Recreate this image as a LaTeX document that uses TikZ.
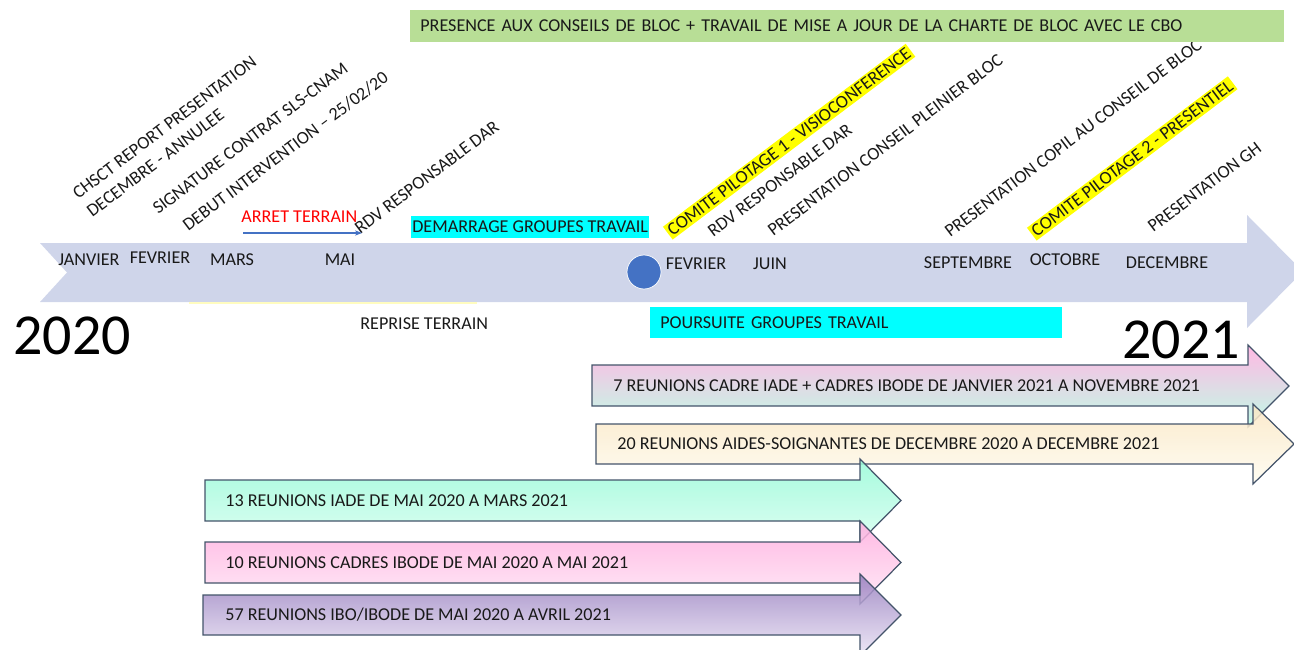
\documentclass[tikz,border=0pt]{standalone}
\usepackage{fontspec}
\setmainfont{Carlito}
\usetikzlibrary{positioning,arrows.meta}

\definecolor{timeline}{RGB}{207,213,234}
\definecolor{dotblue}{RGB}{68,114,196}
\definecolor{bargreen}{RGB}{184,222,150}
\definecolor{groupcyan}{RGB}{0,255,255}
\definecolor{pilotyellow}{RGB}{255,255,0}
\definecolor{outline}{RGB}{68,84,106}
\definecolor{pinktop}{RGB}{255,172,222}
\definecolor{minttop}{RGB}{150,250,215}
\definecolor{mintbot}{RGB}{215,255,240}
\definecolor{creamtop}{RGB}{250,230,195}
\definecolor{creambot}{RGB}{255,252,240}
\definecolor{pinkbot}{RGB}{255,230,245}
\definecolor{purpletop}{RGB}{150,125,190}
\definecolor{purplebot}{RGB}{235,228,245}

\begin{document}
\begin{tikzpicture}
[x=0.02cm, y=-0.02cm,
% STYLES
every node/.style={inner sep=0pt, text=black!90, font=\fontsize{10.3}{12}\selectfont},
% The month style is used to write the months on the timeline
month/.style={anchor=base},
% The event style is used for the slanted milestones above the timeline
event/.style={anchor=base west, rotate=37},
% The pilot style highlights the steering committees
pilot/.style={event, fill=pilotyellow, inner sep=1.2pt},
% The group style is used for the work group boxes
group/.style={fill=groupcyan, anchor=west, align=left},
% The year style is used to draw the big years
year/.style={font=\fontsize{33}{36}\selectfont, text=black},
% The meeting style is used to draw the meeting arrows
meeting/.style={draw=outline, line width=0.7pt, fill opacity=0.85},
meetinglabel/.style={anchor=west}]

\useasboundingbox (0,0) rectangle (1294,649);

% Draw the timeline
\fill [timeline] (40,243) -- (1247,243) -- (1247,215) -- (1303,271.5) -- (1247,328)
    -- (1247,302) -- (40,302) -- (67,272.5) -- cycle;
\draw [yellow!25, line width=0.6pt] (189,303) -- (477,303);

% Months
\node [month] (janvier) at (89,265) {JANVIER};
\node [month] (fevrier) at (160,263) {FEVRIER};
\node [month] (mars) at (232,265) {MARS};
\node [month] (mai) at (340,265) {MAI};
\node [circle, fill=dotblue, draw=white, minimum size=0.68cm] (relance) at (644,272) {};
\node [month] (fevrier-2) at (696,269) {FEVRIER};
\node [month] (juin) at (770,269) {JUIN};
\node [month] (septembre) at (968,268) {SEPTEMBRE};
\node [month] (octobre) at (1065,265) {OCTOBRE};
\node [month] (decembre) at (1167,268) {DECEMBRE};

% Years
\node [year] (an-2020) at (72,336) {2020};
\node [year] (an-2021) at (1181,340) {2021};

% Milestones
\node [event] (chsct) at (78,200) {CHSCT REPORT PRESENTATION};
\node [event] (annulee) at (92,218) {DECEMBRE - ANNULEE};
\node [event] (signature) at (158,215) {SIGNATURE CONTRAT SLS-CNAM};
\node [event] (debut) at (188,232) {DEBUT INTERVENTION – 25/02/20};
\node [event] (rdv-dar) at (360,235) {RDV RESPONSABLE DAR};
\node [pilot] (copil-1) at (671,238) {COMITE PILOTAGE 1 - VISIOCONFERENCE};
\node [event] (rdv-dar-2) at (713,238) {RDV RESPONSABLE DAR};
\node [event] (pleinier) at (773,237) {PRESENTATION CONSEIL PLEINIER BLOC};
\node [event] (copil-bloc) at (950,238) {PRESENTATION COPIL AU CONSEIL DE BLOC};
\node [pilot] (copil-2) at (1035,239) {COMITE PILOTAGE 2 - PRESENTIEL};
\node [event] (gh) at (1153,233) {PRESENTATION GH};

% Field work
\node [anchor=base west, text=red] (arret) at (241,222) {ARRET TERRAIN};
\coordinate (arret-debut) at (243,233);
\coordinate (arret-fin) at (362,233);
\draw [-{Stealth[length=4pt, width=3pt]}, dotblue, line width=0.6pt] (arret-debut) -- (arret-fin);
\node [anchor=base west] (reprise) at (360,329) {REPRISE TERRAIN};

% Work groups
\node [fill=bargreen, anchor=west, align=left, text width=17.08cm, inner xsep=0.2cm, minimum height=0.64cm] (conseils) at (410,26)
    {PRESENCE AUX CONSEILS DE BLOC + TRAVAIL DE MISE A JOUR DE LA CHARTE DE BLOC AVEC LE CBO};
\node [group, inner xsep=0.02cm, minimum height=0.44cm] (demarrage) at (411,227) {DEMARRAGE GROUPES TRAVAIL};
\node [group, text width=7.84cm, inner xsep=0.2cm, minimum height=0.62cm] (poursuite) at (650,322.5) {POURSUITE GROUPES TRAVAIL};

% Meetings
\draw [meeting, top color=pinktop, middle color=white!90!pink, bottom color=minttop!70!white]
    (592,365) -- (1248,365) -- (1248,345) -- (1289,386) -- (1248,427) -- (1248,406) -- (592,406) -- cycle;
\node [meetinglabel] (cadres) at (613,386) {7 REUNIONS CADRE IADE + CADRES IBODE DE JANVIER 2021 A NOVEMBRE 2021};
\draw [meeting, top color=creamtop, bottom color=creambot]
    (596,424) -- (1253,424) -- (1253,404) -- (1294,444) -- (1253,484) -- (1253,464) -- (596,464) -- cycle;
\node [meetinglabel] (aides) at (617,444) {20 REUNIONS AIDES-SOIGNANTES DE DECEMBRE 2020 A DECEMBRE 2021};
\draw [meeting, top color=minttop, bottom color=mintbot]
    (205,480) -- (860,480) -- (860,459) -- (901,500.5) -- (860,542) -- (860,521) -- (205,521) -- cycle;
\node [meetinglabel] (iade) at (225,501) {13 REUNIONS IADE DE MAI 2020 A MARS 2021};
\draw [meeting, top color=pinktop, bottom color=pinkbot]
    (205,542) -- (860,542) -- (860,521) -- (901,562.5) -- (860,604) -- (860,583) -- (205,583) -- cycle;
\node [meetinglabel] (cadres-ibode) at (225,563) {10 REUNIONS CADRES IBODE DE MAI 2020 A MAI 2021};
\draw [meeting, top color=purpletop, bottom color=purplebot]
    (203,595) -- (860,595) -- (860,574) -- (901,615) -- (860,656) -- (860,635) -- (203,635) -- cycle;
\node [meetinglabel] (ibode) at (225,615) {57 REUNIONS IBO/IBODE DE MAI 2020 A AVRIL 2021};

\end{tikzpicture}
\end{document}
